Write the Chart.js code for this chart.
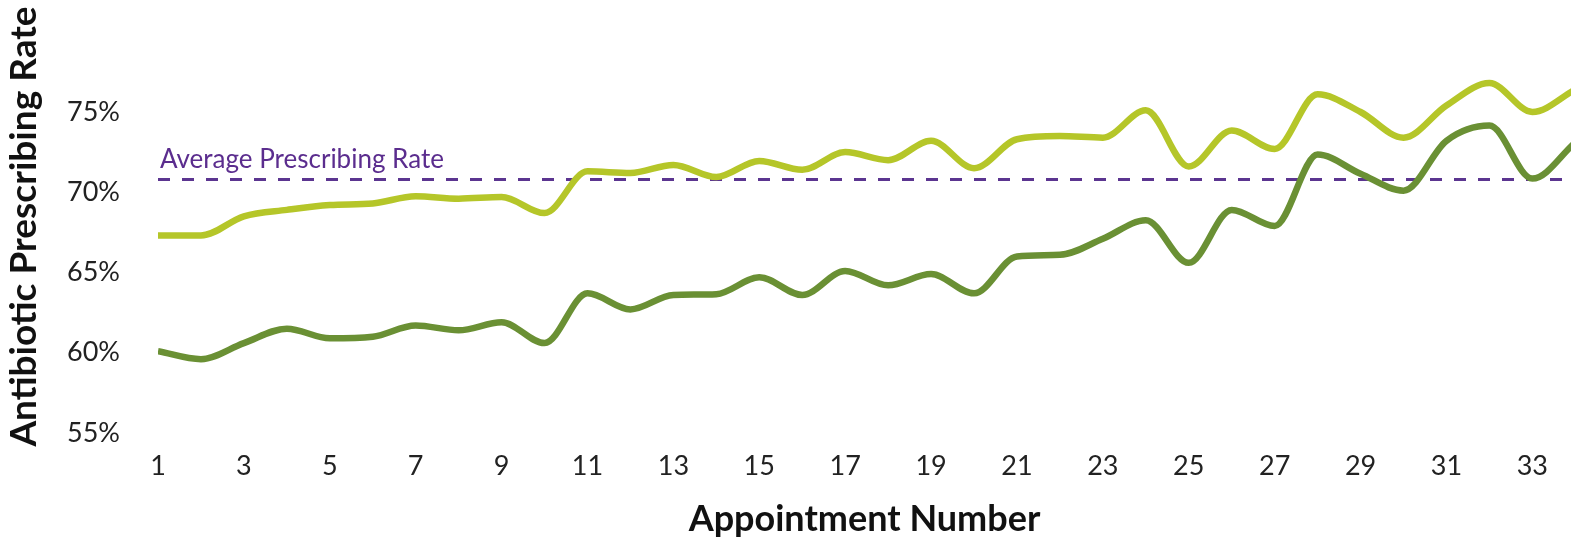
<!DOCTYPE html>
<html>
<head>
<meta charset="utf-8">
<script src="https://cdn.jsdelivr.net/npm/chart.js@4.4.1/dist/chart.umd.min.js"></script>
<style>
    html, body { margin: 0; padding: 0; background: #fff; }
    #contenedor { width: 1571px; height: 541px; position: relative; }
</style>
</head>
<body>
<div id="contenedor"><canvas id="myChart"></canvas></div>
<script>
const citas = [1, 2, 3, 4, 5, 6, 7, 8, 9, 10, 11, 12, 13, 14, 15, 16, 17,
    18, 19, 20, 21, 22, 23, 24, 25, 26, 27, 28, 29, 30, 31, 32, 33, 34];

// serie clara (superior)
const tasaAlta = [67.3, 67.3, 68.5, 68.9, 69.2, 69.3, 69.75, 69.6, 69.7, 68.7,
    71.3, 71.2, 71.7, 70.95, 71.95, 71.4, 72.5, 72.0, 73.2, 71.5,
    73.3, 73.5, 73.4, 75.1, 71.6, 73.85, 72.7, 76.1, 75.0, 73.4,
    75.4, 76.8, 75.0, 76.4];

// serie oscura (inferior)
const tasaBaja = [60.1, 59.6, 60.6, 61.5, 60.9, 61.0, 61.7, 61.4, 61.9, 60.6,
    63.7, 62.7, 63.6, 63.65, 64.7, 63.6, 65.1, 64.2, 64.9, 63.7,
    66.0, 66.1, 67.1, 68.25, 65.6, 68.9, 67.9, 72.35, 71.15, 70.1,
    73.2, 74.15, 70.85, 73.1];

const promedio = 70.8;
const etiquetaPromedioTexto = 'Average Prescribing Rate';

const ticksX = [1, 3, 5, 7, 9, 11, 13, 15, 17, 19, 21, 23, 25, 27, 29, 31, 33];
const ticksY = [55, 60, 65, 70, 75];

Chart.defaults.font.family = 'Lato, "Open Sans", sans-serif';

const etiquetaPromedio = {
    id: 'etiquetaPromedio',
    afterDatasetsDraw(chart) {
        const { ctx, scales: { x, y } } = chart;
        ctx.save();
        ctx.font = '26px Lato, sans-serif';
        ctx.fillStyle = '#5b2d8e';
        ctx.textAlign = 'left';
        ctx.textBaseline = 'alphabetic';
        ctx.fillText(etiquetaPromedioTexto, x.getPixelForValue(citas[0]) + 2, y.getPixelForValue(promedio) - 11);
        ctx.restore();
    }
};

function crearGrafico() {
    const ctx = document.getElementById('myChart').getContext('2d');

    const datasets = [
        {
            label: 'Alta',
            data: citas.map((c, i) => ({ x: c, y: tasaAlta[i] })),
            borderColor: '#b5c629',
            borderWidth: 6.5,
            pointRadius: 0,
            cubicInterpolationMode: 'monotone'
        },
        {
            label: 'Baja',
            data: citas.map((c, i) => ({ x: c, y: tasaBaja[i] })),
            borderColor: '#6a9034',
            borderWidth: 6.5,
            pointRadius: 0,
            cubicInterpolationMode: 'monotone'
        },
        {
            label: 'Promedio',
            data: citas.map(c => ({ x: c, y: promedio })),
            borderColor: '#5b3590',
            borderWidth: 3,
            borderDash: [12, 12],
            pointRadius: 0
        }
    ];

    new Chart(ctx, {
        type: 'line',
        data: { datasets: datasets },
        plugins: [etiquetaPromedio],
        options: {
            responsive: true,
            maintainAspectRatio: false,
            animation: false,
            layout: { padding: { top: 20, left: 0, right: 0, bottom: 0 } },
            plugins: {
                legend: { display: false },
                tooltip: { enabled: false }
            },
            scales: {
                x: {
                    type: 'linear',
                    min: 1,
                    max: 33.9,
                    grid: { display: false, drawTicks: false },
                    border: { display: false },
                    afterBuildTicks: axis => { axis.ticks = ticksX.map(v => ({ value: v })); },
                    afterFit: s => {
                        s.height = 108;
                        s.paddingLeft = 0;
                        s.paddingRight = 0;
                    },
                    ticks: {
                        color: '#222',
                        font: { size: 27 },
                        padding: 17,
                        maxRotation: 0
                    },
                    title: {
                        display: true,
                        text: 'Appointment Number',
                        color: '#111',
                        font: { size: 36, weight: 'bold' },
                        padding: { top: 0, bottom: 0 }
                    }
                },
                y: {
                    min: 55,
                    max: 80.73,
                    grid: { display: false, drawTicks: false },
                    border: { display: false },
                    afterBuildTicks: axis => { axis.ticks = ticksY.map(v => ({ value: v })); },
                    afterFit: s => {
                        s.width = 158;
                        s.paddingTop = 0;
                        s.paddingBottom = 0;
                    },
                    ticks: {
                        color: '#222',
                        font: { size: 27 },
                        padding: 38,
                        callback: v => v + '%'
                    },
                    title: {
                        display: true,
                        text: 'Antibiotic Prescribing Rate',
                        color: '#111',
                        font: { size: 37, weight: 'bold' },
                        padding: { top: 2, bottom: 0 }
                    }
                }
            }
        }
    });
}

window.onload = function () {
    crearGrafico();
};
</script>
</body>
</html>
